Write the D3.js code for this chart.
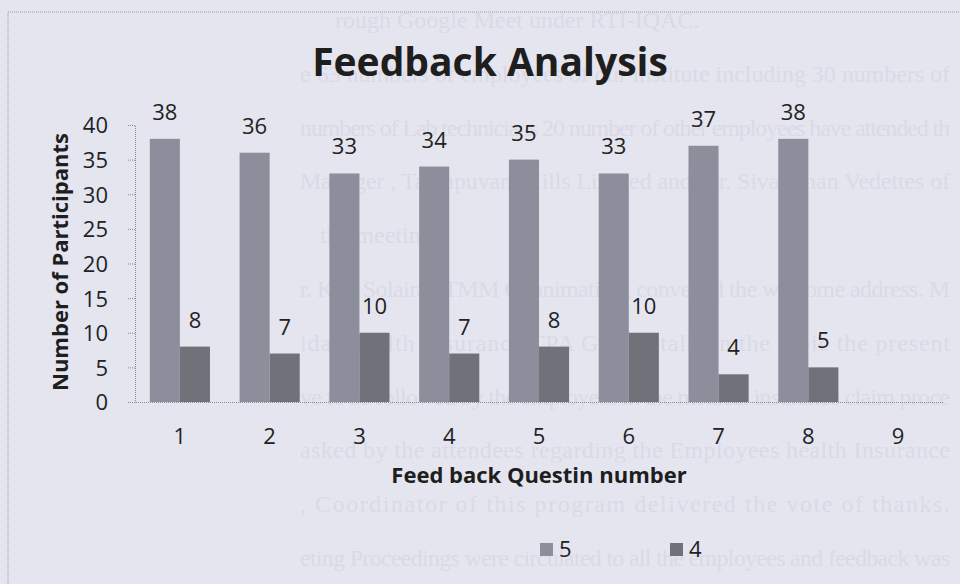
<!DOCTYPE html>
<html>
<head>
<meta charset="utf-8">
<script src="https://cdn.jsdelivr.net/npm/d3@7"></script>
<style>
  body { margin: 0; background: #e5e5ef; }
  svg { display: block; }
  .axis text { font-family: "Open Sans", sans-serif; font-size: 22px; fill: #222; }
  .axis path, .axis line { stroke: #8a8a96; stroke-dasharray: 1,1; }
</style>
</head>
<body>
<div id="chart"></div>
<script>
// feedback scores, counts per question
var questions = ["1", "2", "3", "4", "5", "6", "7", "8", "9"];
var seriesNames = ["5", "4"];
var rating5 = [38, 36, 33, 34, 35, 33, 37, 38, null];
var rating4 = [8, 7, 10, 7, 8, 10, 4, 5, null];
var yTicks = [0, 5, 10, 15, 20, 25, 30, 35, 40];

// faded text from the scanned page behind the chart
var pageLines = [
  "rough Google Meet under RTI-IQAC.",
  "e 63 numbers of employees of our institute including 30 numbers of",
  "numbers of Lab technicians 20 number of other employees have attended th",
  "Manager , Tanjapuvam Hills Limited and Mr. Sivaraman Vedettes of",
  "the meeting.",
  "r. K.S. Solairaj, TMM Cunnimati IT, conveyed the welcome address. M",
  "idal Health Insurance TPA Gave a talk on the topic the present",
  "ve to be followed by the employees in the medical insurance claim proce",
  "asked by the attendees regarding the Employees health Insurance",
  ", Coordinator of this program delivered the vote of thanks.",
  "eting Proceedings were circulated to all the employees and feedback was"
];

var W = 960, H = 584;
var margin = { top: 125, right: 17, bottom: 182, left: 135 },
  width = W - margin.left - margin.right,
  height = H - margin.top - margin.bottom;

var colors = d3.scaleOrdinal().domain(seriesNames).range(["#8c8e9b", "#717279"]);

var svg = d3.select("#chart").append("svg")
  .attr("width", W)
  .attr("height", H);

svg.append("rect").attr("width", W).attr("height", H).attr("fill", "#e5e5ef");

svg.append("g").selectAll("text")
  .data(pageLines)
  .enter().append("text")
  .attr("x", function (d, i) { return i == 0 ? 335 : (i == 4 ? 320 : 300); })
  .attr("y", function (d, i) { return 28 + i * 53.8; })
  .attr("font-family", "Liberation Serif, serif")
  .attr("font-size", 24)
  .attr("fill", "#dadae6")
  .attr("textLength", function (d, i) { return (i == 0 || i == 4) ? null : 650; })
  .text(function (d) { return d; });

// chart frame (dotted)
svg.append("path")
  .attr("d", "M8," + H + "V12H" + W)
  .attr("fill", "none")
  .attr("stroke", "#9a9aa8")
  .attr("stroke-dasharray", "1,1");

var g = svg.append("g")
  .attr("transform", "translate(" + margin.left + "," + margin.top + ")");

var x = d3.scaleBand()
  .domain(questions)
  .range([0, width])
  .paddingInner(0.33)
  .paddingOuter(0.165);

var x1 = d3.scaleBand()
  .domain(seriesNames)
  .range([0, x.bandwidth()]);

var y = d3.scaleLinear()
  .domain([0, 40])
  .range([height, 0]);

var xOuter = d3.scaleBand().domain(questions).range([0, width]);

var rows = questions.map(function (q, i) {
  return { q: q, values: [{ key: "5", v: rating5[i] }, { key: "4", v: rating4[i] }] };
});

var yAxis = d3.axisLeft(y).tickValues(yTicks).tickSize(7).tickPadding(20);
g.append("g")
  .attr("class", "axis y")
  .call(yAxis);
g.selectAll(".y.axis path").attr("d", "M-7,0.5H0.5V" + (height + 0.5));
g.selectAll(".y.axis .tick text").attr("dy", "0.36em");

var xAxis = d3.axisBottom(xOuter).tickSize(0).tickPadding(26);
g.append("g")
  .attr("class", "axis x")
  .attr("transform", "translate(0," + height + ")")
  .call(xAxis);
g.selectAll(".x.axis path").attr("d", "M-7,0.5H" + width);

var groups = g.selectAll(".grp")
  .data(rows)
  .enter().append("g")
  .attr("class", "grp")
  .attr("transform", function (d) { return "translate(" + x(d.q) + ",0)"; });

groups.selectAll("rect")
  .data(function (d) { return d.values.filter(function (v) { return v.v != null; }); })
  .enter().append("rect")
  .attr("x", function (d) { return x1(d.key); })
  .attr("y", function (d) { return y(d.v); })
  .attr("width", x1.bandwidth())
  .attr("height", function (d) { return height - y(d.v); })
  .attr("fill", function (d) { return colors(d.key); });

groups.selectAll(".lbl")
  .data(function (d) { return d.values.filter(function (v) { return v.v != null; }); })
  .enter().append("text")
  .attr("class", "lbl")
  .attr("x", function (d) { return x1(d.key) + x1.bandwidth() / 2; })
  .attr("y", function (d) { return y(d.v) - 19; })
  .attr("text-anchor", "middle")
  .attr("font-family", "Open Sans, sans-serif")
  .attr("font-size", 22)
  .attr("fill", "#222")
  .text(function (d) { return d.v; });

// titles
svg.append("text")
  .attr("x", 490)
  .attr("y", 76)
  .attr("text-anchor", "middle")
  .attr("font-family", "Open Sans, sans-serif")
  .attr("font-weight", "bold")
  .attr("font-size", 39)
  .attr("fill", "#1e1e1e")
  .text("Feedback Analysis");

svg.append("text")
  .attr("transform", "translate(68,262) rotate(-90)")
  .attr("text-anchor", "middle")
  .attr("font-family", "Open Sans, sans-serif")
  .attr("font-weight", "bold")
  .attr("font-size", 22)
  .attr("fill", "#1e1e1e")
  .text("Number of Participants");

svg.append("text")
  .attr("x", margin.left + width / 2)
  .attr("y", 483)
  .attr("text-anchor", "middle")
  .attr("font-family", "Open Sans, sans-serif")
  .attr("font-weight", "bold")
  .attr("font-size", 22)
  .attr("fill", "#1e1e1e")
  .text("Feed back Questin number");

// legend
var legend = svg.selectAll(".legend")
  .data(seriesNames)
  .enter().append("g")
  .attr("class", "legend")
  .attr("transform", function (d, i) { return "translate(" + (540 + i * 130) + ",543)"; });

legend.append("rect")
  .attr("width", 13)
  .attr("height", 13)
  .attr("fill", function (d) { return colors(d); });

legend.append("text")
  .attr("x", 19)
  .attr("y", 14)
  .attr("font-family", "Open Sans, sans-serif")
  .attr("font-size", 22)
  .attr("fill", "#222")
  .text(function (d) { return d; });
</script>
</body>
</html>
